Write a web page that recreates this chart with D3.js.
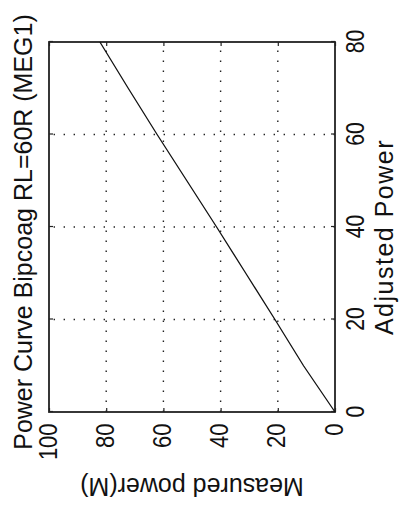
<!DOCTYPE html>
<html><head><meta charset="utf-8">
<script src="https://cdn.jsdelivr.net/npm/d3@7"></script>
<style>body{margin:0;background:#fff} svg text{font-family:"Liberation Sans",Arial,sans-serif;fill:#111}</style>
</head><body><svg id="c" width="400" height="508"></svg>
<script>
const adjustedPower = [0, 10, 20, 30, 40, 50, 60, 70, 80];
const measuredPower = [0, 11, 21, 31.2, 41.4, 51.8, 62.2, 72.3, 82.2];
const xTicks = [0, 20, 40, 60, 80];
const yTicks = [0, 20, 40, 60, 80, 100];
const title = "Power Curve Bipcoag RL=60R (MEG1)";
const xLabel = "Adjusted Power";
const yLabel = "Measured power(M)";

const W = 370, H = 286;
const svg = d3.select("#c");
const g = svg.append("g").attr("transform", "translate(49,412) rotate(-90)");
const x = d3.scaleLinear().domain([0, 80]).range([0, W]);
const y = d3.scaleLinear().domain([0, 100]).range([H, 0]);

// grid
const grid = g.append("g").attr("stroke", "#222").attr("stroke-width", 1.4).attr("stroke-dasharray", "1.4,8.6");
grid.selectAll(".gx").data(xTicks.filter(t => t > 0 && t < 80)).join("line")
  .attr("x1", d => x(d)).attr("x2", d => x(d)).attr("y1", H).attr("y2", 0);
grid.selectAll(".gy").data(yTicks.filter(t => t > 0 && t < 100)).join("line")
  .attr("y1", d => y(d)).attr("y2", d => y(d)).attr("x1", 0).attr("x2", W);

function styleAxis(sel) {
  sel.select(".domain").remove();
  sel.attr("font-size", null).attr("font-family", null);
  sel.selectAll("line").attr("stroke", "#222").attr("stroke-width", 1.2);
}
const ax1 = g.append("g").attr("transform", `translate(0,${H})`)
  .call(d3.axisBottom(x).tickValues(xTicks).tickSizeInner(-4).tickSizeOuter(0).tickPadding(11).tickFormat(d3.format("d")));
styleAxis(ax1);
ax1.selectAll("text").style("font-size", "25px").attr("transform", "scale(0.85,1)");

const ax2 = g.append("g")
  .call(d3.axisLeft(y).tickValues(yTicks).tickSizeInner(-4).tickSizeOuter(0).tickPadding(13).tickFormat(d3.format("d")));
styleAxis(ax2);
ax2.selectAll("text").style("font-size", "25px").attr("dy", "7px")
  .attr("transform", "scale(0.88,1)");

const ax3 = g.append("g").call(d3.axisTop(x).tickValues(xTicks).tickSizeInner(-4).tickSizeOuter(0).tickFormat(""));
styleAxis(ax3);
const ax4 = g.append("g").attr("transform", `translate(${W},0)`)
  .call(d3.axisRight(y).tickValues(yTicks).tickSizeInner(-4).tickSizeOuter(0).tickFormat(""));
styleAxis(ax4);

// frame
g.append("rect").attr("x", 0).attr("y", 0).attr("width", W).attr("height", H)
  .attr("fill", "none").attr("stroke", "#222").attr("stroke-width", 1.8);

// line
const line = d3.line().x((d, i) => x(adjustedPower[i])).y(d => y(d));
g.append("path").datum(measuredPower).attr("d", line)
  .attr("fill", "none").attr("stroke", "#111").attr("stroke-width", 1.3);

// labels
g.append("text").attr("x", 180).attr("y", -17).attr("text-anchor", "middle")
  .style("font-size", "25px").text(title);
g.append("text").attr("x", 175).attr("y", H + 58).attr("text-anchor", "middle")
  .style("font-size", "25px").style("letter-spacing", "1.5px").text(xLabel);
g.append("text").attr("transform", `translate(-66,${H / 2}) rotate(-90)`).attr("text-anchor", "middle")
  .style("font-size", "25px").text(yLabel);
</script></body></html>
